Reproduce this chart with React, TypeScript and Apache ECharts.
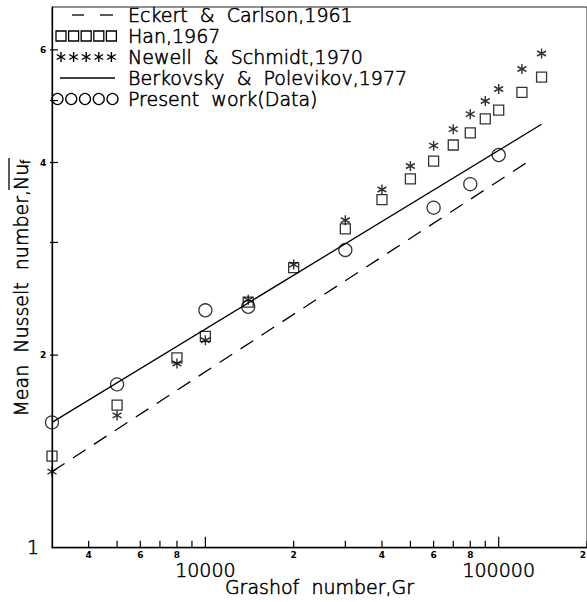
import React, { useEffect, useRef } from 'react';
import * as echarts from 'echarts';

// Grashof numbers shared by the Han (1967) and Newell & Schmidt (1970) series
const literatureGr = [3000, 5000, 8000, 10000, 14000, 20000, 30000, 40000, 50000, 60000, 70000, 80000, 90000, 100000, 120000, 140000];
const hanNu = [1.39, 1.67, 1.98, 2.14, 2.42, 2.74, 3.15, 3.5, 3.77, 4.02, 4.26, 4.45, 4.68, 4.83, 5.15, 5.44];
const newellNu = [1.315, 1.61, 1.94, 2.11, 2.44, 2.77, 3.25, 3.63, 3.95, 4.25, 4.51, 4.76, 4.99, 5.21, 5.6, 5.92];

// Present work (measured data)
const presentGr = [3000, 5000, 10000, 14000, 30000, 60000, 80000, 100000];
const presentNu = [1.57, 1.8, 2.35, 2.38, 2.92, 3.4, 3.7, 4.11];

// Correlations (straight lines on log-log axes)
const eckertGr = [3000, 130000];
const eckertNu = [1.315, 4.05];
const berkovskyGr = [3000, 140000];
const berkovskyNu = [1.57, 4.59];

// Axis ticks and their labels
const xTickValues = [4000, 5000, 6000, 7000, 8000, 9000, 10000, 20000, 30000, 40000, 50000, 60000, 70000, 80000, 90000, 100000, 200000];
const xTickLabels = ['4', '', '6', '', '8', '', '10000', '2', '', '4', '', '6', '', '8', '', '100000', '2'];
const yTickValues = [1, 2, 3, 4, 5, 6];
const yTickLabels = ['1', '2', '', '4', '', '6'];

const legendNames = [
  'Eckert  &  Carlson,1961',
  'Han,1967',
  'Newell  &  Schmidt,1970',
  'Berkovsky  &  Polevikov,1977',
  'Present  work(Data)',
];

const FONT = '"DejaVu Sans ExtraLight", "DejaVu Sans", sans-serif';
const LIGHT = 200;
const INK = '#000';
// a hairline outline gives the light face a pen-plotter stroke weight
const PEN = { fill: INK, stroke: INK, lineWidth: 0.55 };

const starPath = 'path://M0,-5L0,5M-4.33,-2.5L4.33,2.5M-4.33,2.5L4.33,-2.5';

function starGlyph(cx: number, cy: number, r: number) {
  const dx = r * 0.866;
  const dy = r * 0.5;
  const s = { stroke: INK, lineWidth: 1.4 };
  return {
    type: 'group',
    children: [
      { type: 'line', shape: { x1: cx, y1: cy - r, x2: cx, y2: cy + r }, style: s },
      { type: 'line', shape: { x1: cx - dx, y1: cy - dy, x2: cx + dx, y2: cy + dy }, style: s },
      { type: 'line', shape: { x1: cx - dx, y1: cy + dy, x2: cx + dx, y2: cy - dy }, style: s },
    ],
  };
}

function buildLegend() {
  const rows = [15, 36, 57, 78, 99];
  const els: any[] = [];
  const thin = { stroke: INK, lineWidth: 1.3 };
  legendNames.forEach((name, i) => {
    els.push({
      type: 'text',
      x: 128,
      y: rows[i],
      style: { text: name, font: `${LIGHT} 19px ${FONT}`, ...PEN, verticalAlign: 'middle', align: 'left' },
    });
  });
  // dashed line
  els.push({ type: 'line', shape: { x1: 72, y1: rows[0], x2: 84, y2: rows[0] }, style: thin });
  els.push({ type: 'line', shape: { x1: 100, y1: rows[0], x2: 113, y2: rows[0] }, style: thin });
  // squares, stars, circles
  for (let k = 0; k < 5; k++) {
    const cx = 61 + k * 12.6;
    els.push({ type: 'rect', shape: { x: cx - 5, y: rows[1] - 5, width: 10, height: 10 }, style: { fill: 'none', stroke: INK, lineWidth: 1.3 } });
    els.push(starGlyph(cx, rows[2], 5));
    els.push({ type: 'circle', shape: { cx: 57.5 + k * 13.75, cy: rows[4], r: 5.5 }, style: { fill: 'none', stroke: INK, lineWidth: 1.3 } });
  }
  // solid line
  els.push({ type: 'line', shape: { x1: 60, y1: rows[3], x2: 115, y2: rows[3] }, style: thin });

  // y-axis title with an overbar on Nu_f
  els.push({
    type: 'group',
    x: 21,
    y: 292,
    rotation: Math.PI / 2,
    children: [
      { type: 'text', x: 102, y: 0, style: { text: 'Mean  Nusselt  number,', font: `${LIGHT} 19px ${FONT}`, ...PEN, align: 'right', verticalAlign: 'middle' } },
      { type: 'text', x: 102, y: 0, style: { text: 'Nu', font: `${LIGHT} 19px ${FONT}`, ...PEN, align: 'left', verticalAlign: 'middle' } },
      { type: 'text', x: 128, y: 5, style: { text: 'f', font: `${LIGHT} 12px ${FONT}`, ...PEN, align: 'left', verticalAlign: 'middle' } },
      { type: 'line', shape: { x1: 102, y1: -12, x2: 134, y2: -12 }, style: { stroke: INK, lineWidth: 1.3 } },
    ],
  });
  return els;
}

export default function App() {
  const ref = useRef<HTMLDivElement>(null);

  useEffect(() => {
    if (!ref.current) return;
    const chart = echarts.init(ref.current, undefined, { renderer: 'svg' });

    const option: any = {
      animation: false,
      backgroundColor: '#fff',
      grid: {
        left: 52,
        right: -3,
        top: 7,
        bottom: 53,
        show: true,
        borderColor: '#222',
        borderWidth: 1,
        backgroundColor: 'transparent',
      },
      xAxis: {
        type: 'log',
        logBase: 10,
        min: 3000,
        max: 200000,
        axisLine: { show: true, onZero: false, lineStyle: { color: INK, width: 1.3 } },
        axisTick: { show: false },
        axisLabel: { show: false },
        splitLine: { show: false },
        name: 'Grashof  number,Gr',
        nameLocation: 'middle',
        nameGap: 30,
        nameTextStyle: {
          color: INK,
          fontFamily: FONT,
          fontWeight: LIGHT,
          fontSize: 19,
          textBorderColor: INK,
          textBorderWidth: 0.55,
        },
      },
      yAxis: {
        type: 'log',
        logBase: 10,
        min: 1,
        max: 7,
        axisLine: { show: true, onZero: false, lineStyle: { color: INK, width: 1.3 } },
        axisTick: { show: false },
        axisLabel: { show: false },
        splitLine: { show: false },
      },
      graphic: buildLegend(),
      series: [
        {
          name: 'Eckert & Carlson,1961',
          type: 'line',
          data: eckertGr.map((g, i) => [g, eckertNu[i]]),
          symbol: 'none',
          lineStyle: { color: INK, width: 1.3, type: [15, 10] },
          silent: true,
        },
        {
          name: 'Berkovsky & Polevikov,1977',
          type: 'line',
          data: berkovskyGr.map((g, i) => [g, berkovskyNu[i]]),
          symbol: 'none',
          lineStyle: { color: INK, width: 1.3 },
          silent: true,
        },
        {
          name: 'Han,1967',
          type: 'scatter',
          clip: false,
          data: literatureGr.map((g, i) => [g, hanNu[i]]),
          symbol: 'rect',
          symbolSize: 10,
          itemStyle: { color: 'transparent', borderColor: INK, borderWidth: 1.3 },
        },
        {
          name: 'Newell & Schmidt,1970',
          type: 'scatter',
          clip: false,
          data: literatureGr.map((g, i) => [g, newellNu[i]]),
          symbol: starPath,
          symbolSize: [9, 10],
          itemStyle: { color: 'transparent', borderColor: INK, borderWidth: 1.5 },
        },
        {
          name: 'Present work(Data)',
          type: 'scatter',
          clip: false,
          data: presentGr.map((g, i) => [g, presentNu[i]]),
          symbol: 'circle',
          symbolSize: 13,
          itemStyle: { color: 'transparent', borderColor: INK, borderWidth: 1.3 },
        },
        {
          // x-axis ticks (pointing into the plot) and their labels
          type: 'custom',
          clip: false,
          silent: true,
          data: xTickValues.map((v) => [v, 1]),
          renderItem: (params: any, api: any) => {
            const v = api.value(0);
            const p = api.coord([v, api.value(1)]);
            const label = xTickLabels[params.dataIndex];
            const major = Math.abs(Math.log10(v) - Math.round(Math.log10(v))) < 1e-9;
            const len = major ? 11 : 7;
            const atEdge = params.dataIndex === xTickValues.length - 1;
            return {
              type: 'group',
              children: [
                { type: 'line', shape: { x1: p[0], y1: p[1], x2: p[0], y2: p[1] - len }, style: { stroke: INK, lineWidth: 1.2 } },
                {
                  type: 'text',
                  x: atEdge ? 586 : p[0],
                  y: major ? p[1] + 22 : p[1] + 7,
                  style: major
                    ? { text: label, ...PEN, align: 'center', verticalAlign: 'middle', font: `${LIGHT} 19px ${FONT}` }
                    : {
                        text: label,
                        fill: INK,
                        align: atEdge ? 'right' : 'center',
                        verticalAlign: 'middle',
                        font: `bold 9px "DejaVu Sans", sans-serif`,
                      },
                },
              ],
            };
          },
        },
        {
          // y-axis ticks and their labels
          type: 'custom',
          clip: false,
          silent: true,
          data: yTickValues.map((v) => [3000, v]),
          renderItem: (params: any, api: any) => {
            const v = api.value(1);
            const p = api.coord([api.value(0), v]);
            const label = yTickLabels[params.dataIndex];
            const base = v === 1;
            const children: any[] = [
              {
                type: 'text',
                x: base ? p[0] - 19 : p[0] - 9,
                y: base ? p[1] - 1 : p[1],
                style: base
                  ? { text: label, ...PEN, align: 'center', verticalAlign: 'middle', font: `${LIGHT} 19px ${FONT}` }
                  : { text: label, fill: INK, align: 'center', verticalAlign: 'middle', font: `bold 9px "DejaVu Sans", sans-serif` },
              },
            ];
            if (!base) {
              children.push({ type: 'line', shape: { x1: p[0] - 2, y1: p[1], x2: p[0] + 6, y2: p[1] }, style: { stroke: INK, lineWidth: 1.2 } });
            }
            return { type: 'group', children };
          },
        },
      ],
    };

    chart.setOption(option);
    return () => chart.dispose();
  }, []);

  return <div ref={ref} style={{ position: 'absolute', left: 0, top: 0, width: 587, height: 602 }} />;
}
